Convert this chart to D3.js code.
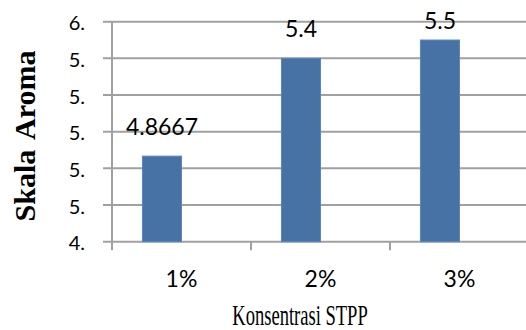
<!DOCTYPE html>
<html>
<head>
<meta charset="utf-8">
<script src="https://cdn.jsdelivr.net/npm/d3@7"></script>
<style>
  body { margin: 0; background: #fff; }
  svg { display: block; }
</style>
</head>
<body>
<svg id="chart"></svg>
<script>
// data
var categories = ["1%", "2%", "3%"];
var values = [4.8667, 5.4, 5.5];
var valueLabels = ["4.8667", "5.4", "5.5"];
var yTicks = [4.4, 4.6, 4.8, 5.0, 5.2, 5.4, 5.6];

var W = 526, H = 330;
var margin = { top: 21.7, right: -3, bottom: 88.3, left: 112 },
    width = W - margin.left - margin.right,
    height = H - margin.top - margin.bottom;

var svg = d3.select("#chart").attr("width", W).attr("height", H);
var g = svg.append("g")
    .attr("transform", "translate(" + margin.left + "," + margin.top + ")");

// scales
var xScale = d3.scaleBand().domain(categories).range([0, width]).padding(0);
var x1 = d3.scaleBand().domain(["a", "b"]).range([0, xScale.bandwidth()])
    .paddingInner(0).paddingOuter(0.78);
var yScale = d3.scaleLinear().domain([4.4, 5.6]).range([height, 0]);

var gridColor = "#a0a0a0";

// gridlines (incl. outward tick)
g.selectAll(".grid").data(yTicks).enter().append("line")
    .attr("x1", -9).attr("x2", W - margin.left)
    .attr("y1", function (d) { return yScale(d); })
    .attr("y2", function (d) { return yScale(d); })
    .attr("stroke", gridColor).attr("stroke-width", 2);

// y axis line
g.append("line")
    .attr("x1", 0).attr("x2", 0).attr("y1", 0).attr("y2", height + 8.5)
    .attr("stroke", gridColor).attr("stroke-width", 2);

// x tick marks at category boundaries
g.selectAll(".xt").data(categories.slice(1)).enter().append("line")
    .attr("x1", function (d) { return xScale(d); })
    .attr("x2", function (d) { return xScale(d); })
    .attr("y1", height).attr("y2", height + 8.5)
    .attr("stroke", gridColor).attr("stroke-width", 2);

// y tick labels
g.selectAll(".ylab").data(yTicks).enter().append("text")
    .attr("x", -27)
    .attr("y", function (d) { return yScale(d) + 8.5; })
    .attr("text-anchor", "end")
    .style("font-family", "Lato, 'Open Sans', sans-serif")
    .style("font-size", "20px")
    .attr("fill", "#000")
    .text(function (d) { return d3.format(".0f")(d) + "."; });

// bars
g.selectAll(".bar").data(values).enter().append("rect")
    .attr("x", function (d, i) { return xScale(categories[i]) + x1("a"); })
    .attr("width", x1.bandwidth())
    .attr("y", function (d) { return yScale(d); })
    .attr("height", function (d) { return height - yScale(d); })
    .attr("fill", "#4672a6")
    .attr("stroke", "#5b86bd").attr("stroke-width", 1);

// value labels (kept inside the chart area at the top)
g.selectAll(".vlab").data(values).enter().append("text")
    .attr("x", function (d, i) { return xScale(categories[i]) + x1("a") + x1.bandwidth() / 2; })
    .attr("y", function (d) { return Math.max(yScale(d) - 21, 29 - margin.top); })
    .attr("text-anchor", "middle")
    .style("font-family", "Lato, 'Open Sans', sans-serif")
    .style("font-size", "23px")
    .attr("fill", "#000")
    .text(function (d, i) { return valueLabels[i]; });

// category labels
g.selectAll(".clab").data(categories).enter().append("text")
    .attr("x", function (d) { return xScale(d) + xScale.bandwidth() / 2; })
    .attr("y", height + 45)
    .attr("text-anchor", "middle")
    .style("font-family", "Lato, 'Open Sans', sans-serif")
    .style("font-size", "23px")
    .attr("fill", "#000")
    .text(function (d) { return d; });

// axis titles
svg.append("text")
    .attr("transform", "translate(35,136) rotate(-90)")
    .attr("text-anchor", "middle")
    .style("font-family", "'Liberation Serif', serif")
    .style("font-weight", "bold")
    .style("font-size", "30px")
    .style("word-spacing", "4px")
    .attr("fill", "#000")
    .text("Skala Aroma");

svg.append("text")
    .attr("transform", "translate(300,325) scale(0.64,1)")
    .attr("text-anchor", "middle")
    .style("font-family", "'Liberation Serif', serif")
    .style("font-size", "29px")
    .attr("fill", "#000")
    .text("Konsentrasi STPP");
</script>
</body>
</html>
